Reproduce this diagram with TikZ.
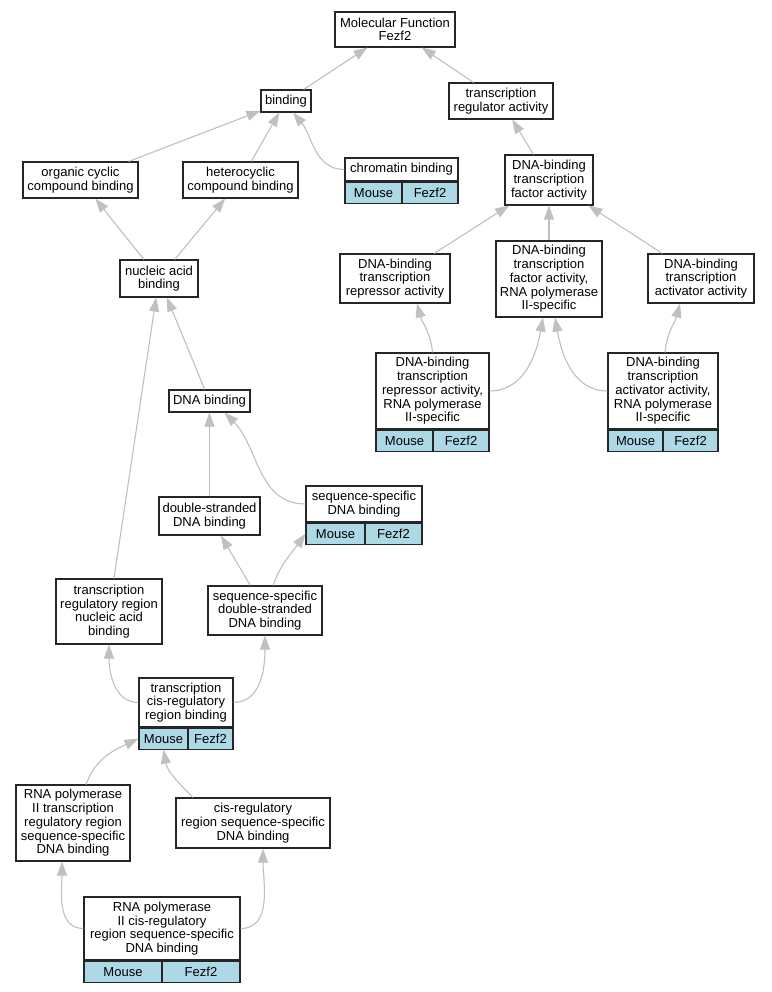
\documentclass[tikz,border=0pt]{standalone}
\usepackage{fontspec}
\setmainfont{Liberation Sans}
\usetikzlibrary{arrows.meta}
\definecolor{edgegray}{HTML}{C0C0C0}
\definecolor{mouseblue}{HTML}{ADD8E6}
\tikzset{
  term/.style={draw=black!85,line width=1.1pt,fill=white,inner sep=0pt,align=center,
    font=\fontsize{13}{13.7}\selectfont},
  gene/.style={term,fill=mouseblue,minimum height=21pt},
  edge/.style={draw=edgegray,line width=1.1pt,-{Triangle[length=14pt,width=10pt]},
    color=edgegray},
}
\begin{document}
\begin{tikzpicture}[x=1pt,y=1pt]
\useasboundingbox[fill=white] (0,0) rectangle (771,-992);
\node[term,minimum width=120pt,minimum height=35pt] (mf) at (395,-29.5) {Molecular Function\\Fezf2};
\node[term,minimum width=50pt,minimum height=22pt] (bind) at (286,-101) {binding};
\node[term,minimum width=104pt,minimum height=36pt] (tra) at (501,-101) {transcription\\regulator activity};
\node[term,minimum width=115pt,minimum height=36pt] (occb) at (80.5,-180) {organic cyclic\\compound binding};
\node[term,minimum width=115pt,minimum height=36pt] (hccb) at (240.5,-180) {heterocyclic\\compound binding};
\node[term,minimum width=113pt,minimum height=23pt] (chrom) at (401.5,-169.5) {chromatin binding};
\node[gene,anchor=north west,minimum width=57pt] (chromM) at (chrom.south west) {Mouse};
\node[gene,anchor=north east,minimum width=56pt] (chromF) at (chrom.south east) {Fezf2};
\node[term,minimum width=88pt,minimum height=50pt] (dbtf) at (549,-180) {DNA-binding\\transcription\\factor activity};
\node[term,minimum width=78pt,minimum height=37pt] (nab) at (159,-278.5) {nucleic acid\\binding};
\node[term,minimum width=110pt,minimum height=49pt] (rep) at (395,-278.5) {DNA-binding\\transcription\\repressor activity};
\node[term,minimum width=106pt,minimum height=76pt] (poltf) at (549,-279) {DNA-binding\\transcription\\factor activity,\\RNA polymerase\\II-specific};
\node[term,minimum width=106pt,minimum height=49pt] (act) at (701,-278.5) {DNA-binding\\transcription\\activator activity};
\node[term,minimum width=113pt,minimum height=76pt] (reptwo) at (432.5,-391) {DNA-binding\\transcription\\repressor activity,\\RNA polymerase\\II-specific};
\node[gene,anchor=north west,minimum width=57pt] (reptwoM) at (reptwo.south west) {Mouse};
\node[gene,anchor=north east,minimum width=56pt] (reptwoF) at (reptwo.south east) {Fezf2};
\node[term,minimum width=110pt,minimum height=76pt] (acttwo) at (663,-391) {DNA-binding\\transcription\\activator activity,\\RNA polymerase\\II-specific};
\node[gene,anchor=north west,minimum width=55pt] (acttwoM) at (acttwo.south west) {Mouse};
\node[gene,anchor=north east,minimum width=55pt] (acttwoF) at (acttwo.south east) {Fezf2};
\node[term,minimum width=81pt,minimum height=22pt] (dnab) at (209.5,-401) {DNA binding};
\node[term,minimum width=101pt,minimum height=38pt] (dsdna) at (209.5,-516) {double-stranded\\DNA binding};
\node[term,minimum width=116pt,minimum height=36pt] (ssdna) at (364,-504) {sequence-specific\\DNA binding};
\node[gene,anchor=north west,minimum width=59pt] (ssdnaM) at (ssdna.south west) {Mouse};
\node[gene,anchor=north east,minimum width=57pt] (ssdnaF) at (ssdna.south east) {Fezf2};
\node[term,minimum width=106pt,minimum height=65pt] (trrnab) at (109,-611.5) {transcription\\regulatory region\\nucleic acid\\binding};
\node[term,minimum width=114pt,minimum height=49pt] (ssds) at (265,-610.5) {sequence-specific\\double-stranded\\DNA binding};
\node[term,minimum width=94pt,minimum height=49pt] (tcrb) at (186,-702.5) {transcription\\cis-regulatory\\region binding};
\node[gene,anchor=north west,minimum width=49pt] (tcrbM) at (tcrb.south west) {Mouse};
\node[gene,anchor=north east,minimum width=45pt] (tcrbF) at (tcrb.south east) {Fezf2};
\node[term,minimum width=114pt,minimum height=76pt] (ptrr) at (73,-823) {RNA polymerase\\II transcription\\regulatory region\\sequence-specific\\DNA binding};
\node[term,minimum width=154pt,minimum height=50pt] (cisr) at (253,-823) {cis-regulatory\\region sequence-specific\\DNA binding};
\node[term,minimum width=156pt,minimum height=63pt] (pcis) at (162,-928.5) {RNA polymerase\\II cis-regulatory\\region sequence-specific\\DNA binding};
\node[gene,anchor=north west,minimum width=78pt] (pcisM) at (pcis.south west) {Mouse};
\node[gene,anchor=north east,minimum width=78pt] (pcisF) at (pcis.south east) {Fezf2};
% straight is_a edges
\foreach \i/\j in {bind/mf,tra/mf,occb/bind,hccb/bind,dbtf/tra,nab/occb,nab/hccb,
  rep/dbtf,poltf/dbtf,act/dbtf,dnab/nab,trrnab/nab,dsdna/dnab,ssds/dsdna} {
  \draw[edge] (\i) -- (\j);
}
% curved edges
\draw[edge] (chrom.west) to[out=180,in=-50] ([xshift=7pt]bind.south);
\draw[edge] (reptwo.north) to[out=95,in=-75] ([xshift=22pt]rep.south);
\draw[edge] (reptwo.east) to[out=0,in=-100] ([xshift=-6pt]poltf.south);
\draw[edge] (acttwo.west) to[out=180,in=-80] ([xshift=6pt]poltf.south);
\draw[edge] ([xshift=2pt]acttwo.north) to[out=85,in=-105] ([xshift=-21pt]act.south);
\draw[edge] (ssdna.west) to[out=180,in=-45] ([xshift=15pt]dnab.south);
\draw[edge] ([xshift=8pt]ssds.north) to[out=70,in=-125] (ssdnaM.west);
\draw[edge] (tcrb.west) to[out=180,in=-90] (trrnab.south);
\draw[edge] (tcrb.east) to[out=0,in=-90] (ssds.south);
\draw[edge] ([xshift=13pt]ptrr.north) to[out=70,in=-155] (tcrbM.west);
\draw[edge] ([xshift=-60pt]cisr.north) to[out=135,in=-80] (tcrbM.south);
\draw[edge] (pcis.west) to[out=180,in=-90] ([xshift=-11pt]ptrr.south);
\draw[edge] (pcis.east) to[out=0,in=-90] ([xshift=10pt]cisr.south);
\end{tikzpicture}
\end{document}
